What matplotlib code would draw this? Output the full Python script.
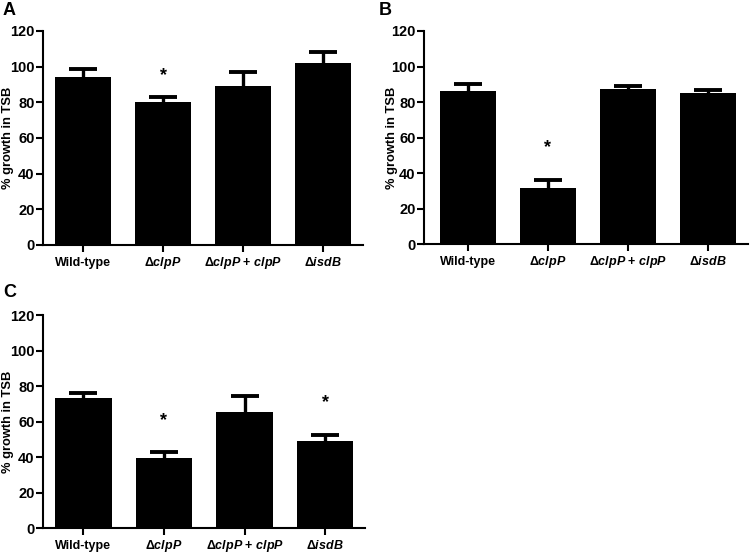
import matplotlib
matplotlib.use("Agg")
import matplotlib.pyplot as plt
import matplotlib.transforms as mtransforms

plt.rcParams['font.family'] = ['Liberation Sans', 'DejaVu Sans']
plt.rcParams['font.weight'] = 'bold'
plt.rcParams['mathtext.fontset'] = 'custom'
plt.rcParams['mathtext.rm'] = 'Liberation Sans:bold'
plt.rcParams['mathtext.it'] = 'Liberation Sans:bold:italic'
plt.rcParams['mathtext.bf'] = 'Liberation Sans:bold'

categories = ['Wild-type', '\u0394$\\mathit{clpP}$', '\u0394$\\mathit{clpP}$ + $\\mathit{clpP}$', '\u0394$\\mathit{isdB}$']

means_A = [94.0, 80.0, 89.4, 101.9]
err_A = [4.9, 2.8, 7.6, 6.3]
stars_A = [None, 94.8, None, None]

means_B = [86.2, 31.8, 87.5, 84.9]
err_B = [4.0, 4.2, 1.7, 1.7]
stars_B = [None, 54.3, None, None]

means_C = [73.3, 39.4, 65.6, 49.3]
err_C = [3.2, 3.4, 9.2, 3.0]
stars_C = [None, 60.9, None, 70.7]

yticks = [0, 20, 40, 60, 80, 100, 120]
ylabel = '% growth in TSB'

fig = plt.figure(figsize=(7.5, 5.53), dpi=100)

panels = [
    ('A', [0.0573, 0.557, 0.427, 0.387], means_A, err_A, stars_A, (-0.5, 3.5), (0.004, 0.997), -0.089),
    ('B', [0.565, 0.558, 0.432, 0.386], means_B, err_B, stars_B, (-0.55, 3.5), (0.505, 0.997), -0.079),
    ('C', [0.0573, 0.0447, 0.430, 0.385], means_C, err_C, stars_C, (-0.5, 3.5), (0.004, 0.487), -0.089),
]

for letter, rect, means, errs, stars, xlim, lpos, ylx in panels:
    ax = fig.add_axes(rect)
    x = list(range(len(categories)))
    ax.bar(x, means, width=0.7, color='black', zorder=2)
    eb = ax.errorbar(x, means, yerr=[[0]*len(errs), errs], fmt='none', ecolor='black',
                     elinewidth=2.4, capsize=10, capthick=2.8, zorder=1)
    caplines = eb[1]
    if len(caplines) > 1:
        caplines[0].set_visible(False)
    for xi, s in zip(x, stars):
        if s is not None:
            ax.text(xi, s, '*', ha='center', va='center', fontsize=13, fontweight='bold')
    ax.set_xlim(*xlim)
    ax.set_ylim(0, 120)
    ax.set_yticks(yticks)
    ax.set_xticks(x)
    ax.set_xticklabels([])
    trans = mtransforms.offset_copy(ax.get_xaxis_transform(), fig=fig, y=-21, units='dots')
    for xi, lab in zip(x, categories):
        ax.text(xi, 0, lab, transform=trans, ha='center', va='baseline',
                fontsize=9, fontweight='bold', clip_on=False)
    ax.tick_params(axis='y', labelsize=10.5, width=1.5, length=5, direction='out', pad=1)
    ax.tick_params(axis='x', width=1.5, length=5, direction='out')
    for lab in ax.get_yticklabels():
        lab.set_fontweight('bold')
    ax.spines['top'].set_visible(False)
    ax.spines['right'].set_visible(False)
    ax.spines['left'].set_linewidth(1.5)
    ax.spines['bottom'].set_linewidth(1.5)
    ax.set_ylabel(ylabel, fontsize=9.3, fontweight='bold')
    ax.yaxis.set_label_coords(ylx, 0.5)
    fig.text(lpos[0], lpos[1], letter, fontsize=13, fontweight='bold', ha='left', va='top')

fig.savefig('out.png', dpi=100)
